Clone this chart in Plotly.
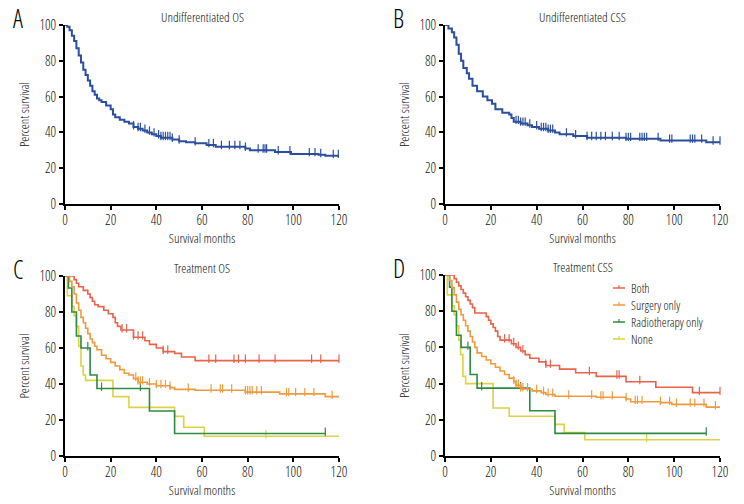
import plotly.graph_objects as go

# ---------------- data ----------------
# Panel A: Undifferentiated OS
A_t = [0, 1, 2, 3, 4, 5, 6, 7, 8, 9, 10, 11, 12, 13, 14, 15, 16, 18, 20, 21, 22, 24, 26, 28, 30, 32, 34, 36, 38, 40, 42, 47, 50, 53, 57, 62, 66, 79, 81, 92, 99, 111, 114]
A_s = [100, 99, 97, 94, 91, 87, 83, 79, 75, 72, 69, 66, 63, 61, 59, 58, 57, 55, 53, 50, 48.5, 47, 46, 45, 43, 42, 41, 40, 39, 38, 37, 36, 35, 34.5, 34, 33, 32, 31, 30, 29, 28, 27.5, 27]
A_cens = [30, 32, 33, 35, 37, 39, 41, 42, 43, 44, 45, 46, 47, 50, 57, 63, 65, 68.5, 72, 74.4, 76.6, 79, 84.6, 86.8, 87.6, 88.3, 93.4, 98.5, 107, 109.5, 112, 117.5, 119.7]

# Panel B: Undifferentiated CSS
B_t = [0, 1.5, 3, 4, 5, 6, 7, 8, 9.5, 10.5, 12, 14, 16.5, 18.5, 20.5, 22, 25, 28, 29, 30, 33, 36, 38, 41, 45, 48, 50, 56, 62, 79, 94, 114]
B_s = [100, 98, 96, 93, 89, 84, 80, 76, 73, 70, 66, 63, 60, 58, 56, 53, 51, 50, 48, 46, 45, 44, 43, 42, 41, 40, 39, 38, 37, 36.5, 35.5, 34.5]
B_cens = [31, 32, 33, 34, 35, 37, 40, 42, 43, 44, 45, 46, 47, 53, 57, 62, 64, 66, 68, 70, 73, 76, 79, 80, 81, 85, 86, 87, 88, 93, 98, 99, 107, 108, 109, 112, 117, 120]

# Panel C: Treatment OS
C_both_t = [0, 4, 5, 6, 8, 10, 11, 12, 13, 14.5, 17, 19, 21, 22, 23, 24.5, 30, 35, 37, 40, 43, 48, 51, 57]
C_both_s = [100, 98, 96, 94, 92, 90, 88, 86, 84, 83, 81, 79, 77, 74, 72, 70, 66, 64, 62, 60, 58, 57, 55, 53]
C_both_c = [25, 27, 30, 32, 34, 43, 45, 63, 66, 74, 76, 79, 85, 92, 108, 112, 120]

C_surg_t = [0, 2, 3, 4, 5, 6, 7, 8, 9, 10, 11, 12, 13, 14, 16, 18, 20, 22, 24, 26, 28, 30, 32, 36, 40, 46, 48, 57, 79, 94, 114]
C_surg_s = [100, 97, 94, 90, 85, 81, 77, 74, 71, 68, 65, 63, 61, 59, 56, 54, 52, 50, 48, 46, 45, 43, 41, 40, 39, 38, 37, 36.5, 35.5, 34.5, 33]
C_surg_c = [31, 32, 33, 34, 37, 40, 42, 44, 46, 54, 64, 68, 69, 73, 79, 80, 81, 82, 84, 86, 97, 98, 101, 105, 109, 117]

C_radio_t = [0, 1.5, 3, 5, 7, 11, 14, 37, 48, 114]
C_radio_s = [100, 93.3, 80, 66.7, 60, 45, 37.5, 25, 12.5, 12.5]
C_radio_c = [10, 16, 33, 114]

C_none_t = [0, 1, 3, 4, 5, 6, 7, 8, 9, 21, 28, 48, 52, 61]
C_none_s = [100, 89, 83, 78, 72, 61, 50, 45, 42, 33, 27, 22, 16, 11]
C_none_c = [88]

# Panel D: Treatment CSS
D_both_t = [0, 4, 5, 6, 7, 8, 9, 10, 11, 12, 13, 18, 19, 20, 21, 22, 23, 24, 29, 31, 33, 35, 37, 41, 44, 50, 57, 66, 79, 92, 108]
D_both_s = [100, 98, 96, 94, 92, 90, 88, 86, 84, 82, 79, 77, 75, 73, 71, 69, 66, 64, 62, 60, 58, 56, 54, 52, 50, 48, 46, 44, 41, 38, 35]
D_both_c = [26, 28, 30, 32, 34, 44, 46, 63, 75, 76, 85, 111, 120]

D_surg_t = [0, 2, 3, 4, 5, 6, 7, 8, 9, 10, 11, 12, 13, 14, 16, 18, 20, 22, 24, 26, 28, 30, 31, 33, 38, 42, 44, 48, 66, 79, 81, 94, 99, 114]
D_surg_s = [100, 97, 93, 89, 85, 81, 78, 75, 72, 69, 66, 63, 60, 57, 55, 53, 51, 49, 47, 45, 43, 41, 39, 37, 36, 35, 34, 33, 32.5, 31.5, 30, 29.5, 28.5, 27]
D_surg_c = [30, 31, 32, 33, 34, 36, 40, 43, 45, 47, 54, 64, 68, 69, 73, 79, 83, 84, 86, 94, 98, 101, 107, 109, 113, 118]

D_radio_t = [0, 2, 3, 5, 7, 11, 14, 37, 48, 114]
D_radio_s = [100, 93.3, 80, 66.7, 60, 45, 37.5, 25, 12.5, 12.5]
D_radio_c = [10, 16, 33, 114]

D_none_t = [0, 1, 3, 4, 5, 6, 6.8, 7.8, 9, 21, 28, 48, 52, 61]
D_none_s = [100, 89, 83, 78, 72, 64, 56, 44, 40, 26.5, 22, 17.5, 13, 9]
D_none_c = [88]

group_names = ["Both", "Surgery only", "Radiotherapy only", "None"]
x_ticks = [0, 20, 40, 60, 80, 100, 120]
y_ticks = [0, 20, 40, 60, 80, 100]

# ---------------- styling ----------------
FONT = "Open Sans Condensed Light, Liberation Sans Narrow, sans-serif"
TXT = "#111111"
BLUE = "#2b4e9f"
COLORS = ["#e8634a", "#f09a3e", "#2e8a45", "#ddd243"]


def surv_at(times, surv, t):
    val = surv[0]
    for ti, si in zip(times, surv):
        if ti <= t:
            val = si
    return val


fig = go.Figure()

W, H = 744, 504
panels = {
    "A": dict(ax="", x0=65, x1=339, y0=25, y1=204, title="Undifferentiated OS"),
    "B": dict(ax="2", x0=445, x1=720, y0=25, y1=204, title="Undifferentiated CSS"),
    "C": dict(ax="3", x0=65, x1=339, y0=276, y1=456, title="Treatment OS"),
    "D": dict(ax="4", x0=445, x1=720, y0=275, y1=456, title="Treatment CSS"),
}


def add_curve(ax, times, surv, cens, color, name, width, end=120):
    xs = list(times) + ([end] if times[-1] < end else [])
    ys = list(surv) + ([surv[-1]] if times[-1] < end else [])
    fig.add_trace(go.Scatter(
        x=xs, y=ys, mode="lines", line=dict(color=color, width=width, shape="hv"),
        xaxis="x" + ax, yaxis="y" + ax, name=name, showlegend=False,
        cliponaxis=False, hoverinfo="skip"))
    cy = [surv_at(times, surv, c) + 1.0 for c in cens]
    fig.add_trace(go.Scatter(
        x=cens, y=cy, mode="markers",
        marker=dict(symbol="line-ns", size=6, line=dict(color=color, width=1.2)),
        xaxis="x" + ax, yaxis="y" + ax, showlegend=False,
        cliponaxis=False, hoverinfo="skip"))


add_curve("", A_t, A_s, A_cens, BLUE, "Undifferentiated OS", 2)
add_curve("2", B_t, B_s, B_cens, BLUE, "Undifferentiated CSS", 2)

C_sets = [(C_both_t, C_both_s, C_both_c), (C_surg_t, C_surg_s, C_surg_c),
          (C_radio_t, C_radio_s, C_radio_c), (C_none_t, C_none_s, C_none_c)]
D_sets = [(D_both_t, D_both_s, D_both_c), (D_surg_t, D_surg_s, D_surg_c),
          (D_radio_t, D_radio_s, D_radio_c), (D_none_t, D_none_s, D_none_c)]
for i in [3, 2, 1, 0]:
    t, s, c = C_sets[i]
    add_curve("3", t, s, c, COLORS[i], group_names[i], 1.6, end=114 if i == 2 else 120)
for i in [3, 2, 1, 0]:
    t, s, c = D_sets[i]
    add_curve("4", t, s, c, COLORS[i], group_names[i], 1.6, end=114 if i == 2 else 120)

layout = dict(
    width=W, height=H, margin=dict(l=0, r=0, t=0, b=0, autoexpand=False),
    paper_bgcolor="white", plot_bgcolor="white",
    font=dict(family=FONT, size=13, color=TXT),
    showlegend=False,
)

annotations = []
shapes = []
for key, p in panels.items():
    ax = p["ax"]
    xd = [p["x0"] / W, p["x1"] / W]
    yd = [1 - p["y1"] / H, 1 - p["y0"] / H]
    common = dict(showline=True, linecolor="black", linewidth=2, ticks="outside",
                  ticklen=4, tickwidth=1.5, tickcolor="black", showgrid=False,
                  zeroline=False, automargin=False,
                  tickfont=dict(family=FONT, size=14, color=TXT))
    layout["xaxis" + ax] = dict(domain=xd, range=[0, 120], tickvals=x_ticks,
                                anchor="y" + ax, ticklabelstandoff=-2,
                                title=dict(text="Survival months", standoff=0,
                                           font=dict(family=FONT, size=13, color=TXT)),
                                **common)
    layout["yaxis" + ax] = dict(domain=yd, range=[0, 100], tickvals=y_ticks,
                                anchor="x" + ax, ticklabelstandoff=0,
                                title=dict(text="Percent survival", standoff=7,
                                           font=dict(family=FONT, size=13, color=TXT)),
                                **common)
    annotations.append(dict(text=p["title"], x=(p["x0"] + p["x1"]) / 2 / W,
                            y=1 - (p["y0"] - 8) / H, xref="paper", yref="paper",
                            xanchor="center", yanchor="middle", showarrow=False,
                            font=dict(family=FONT, size=13, color=TXT)))
    annotations.append(dict(text=key, x=(p["x0"] - 54) / W,
                            y=1 - (p["y0"] - 7) / H, xref="paper", yref="paper",
                            xanchor="left", yanchor="middle", showarrow=False,
                            font=dict(family=FONT, size=25, color="black")))

# legend key for panel D (Both, Surgery only, Radiotherapy only, None)
LEG_X, LEG_Y, LEG_DY = 613, 288, 17
for i, name in enumerate(group_names):
    yy = 1 - (LEG_Y + i * LEG_DY) / H
    shapes.append(dict(type="line", xref="paper", yref="paper",
                       x0=LEG_X / W, x1=(LEG_X + 12) / W, y0=yy, y1=yy,
                       line=dict(color=COLORS[i], width=1.5)))
    shapes.append(dict(type="line", xref="paper", yref="paper",
                       x0=(LEG_X + 6) / W, x1=(LEG_X + 6) / W, y0=yy, y1=yy + 3 / H,
                       line=dict(color=COLORS[i], width=1.2)))
    annotations.append(dict(text=name, x=(LEG_X + 16) / W, y=yy, xref="paper", yref="paper",
                            xanchor="left", yanchor="middle", showarrow=False,
                            font=dict(family=FONT, size=12.4, color=TXT)))

layout["annotations"] = annotations
layout["shapes"] = shapes
fig.update_layout(**layout)

fig.write_html("out.html", config={"displayModeBar": False},
               post_script="document.body.style.margin='0';")
